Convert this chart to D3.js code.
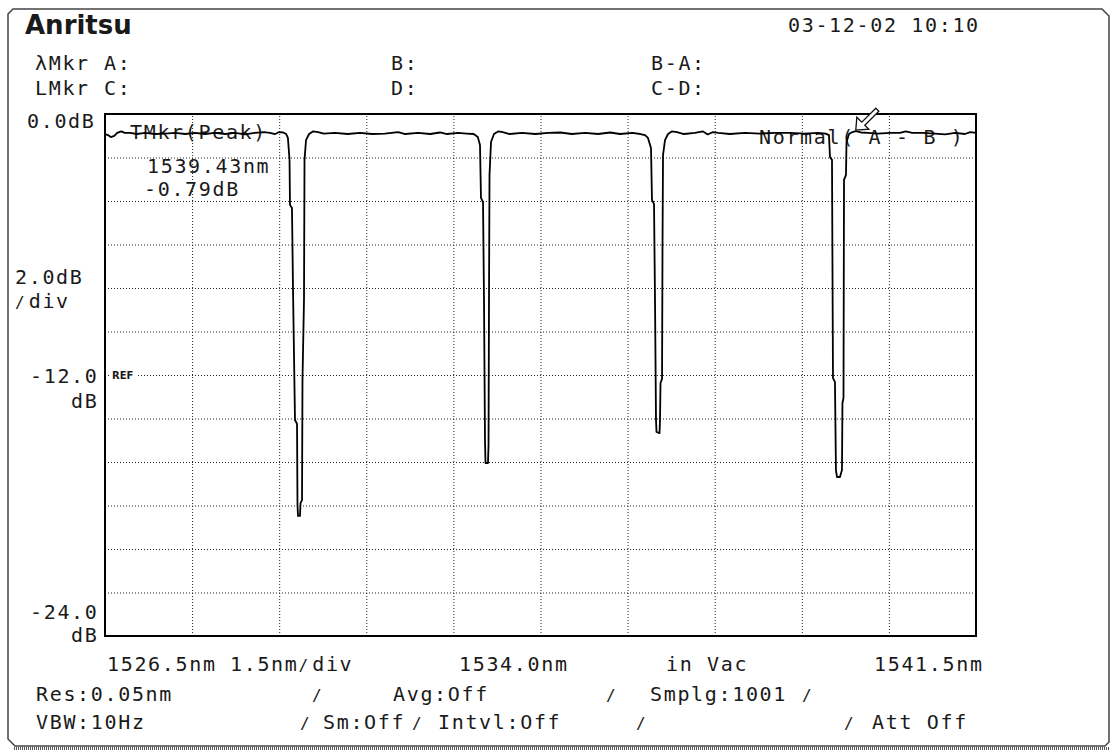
<!DOCTYPE html>
<html>
<head>
<meta charset="utf-8">
<script src="https://cdn.jsdelivr.net/npm/d3@7"></script>
<style>
  body { margin: 0; background: #fff; }
  svg text { font-family: "DejaVu Sans Mono", monospace; font-size: 20px; letter-spacing: 1.66px; fill: #1a1a1a; }
  svg tspan.sl { font-size: 16px; letter-spacing: 4.07px; }
</style>
</head>
<body>
<div id="chart"></div>
<script>
// Sweep settings (from the screen)
const xStart = 1526.5, xStop = 1541.5, xDiv = 1.5;
const yTop = 0, yBottom = -24, yDiv = 2;
const refLevel = -12;

// Trace: wavelength (nm) and level (dB)
const wavelengths = [
  1526.50, 1526.55, 1526.60, 1526.66, 1526.71, 1526.78, 1526.84, 1526.93, 1527.05, 1527.19,
  1527.36, 1527.53, 1527.71, 1527.88, 1528.05, 1528.22, 1528.39, 1528.57, 1528.74, 1528.91,
  1529.08, 1529.24, 1529.34, 1529.43, 1529.50, 1529.57, 1529.62, 1529.65,
  1529.678, 1529.686, 1529.720, 1529.738, 1529.772, 1529.807, 1529.815, 1529.824, 1529.858,
  1529.867, 1529.893, 1529.901, 1529.927, 1529.936, 1529.962, 1530.014,
  1530.08, 1530.17, 1530.27, 1530.46, 1530.68, 1530.89, 1531.10, 1531.32, 1531.55, 1531.67,
  1531.89, 1532.10, 1532.27, 1532.39, 1532.58, 1532.73, 1532.85, 1532.92,
  1532.958, 1532.975, 1533.010, 1533.027, 1533.044, 1533.053, 1533.096, 1533.105, 1533.113,
  1533.122, 1533.148, 1533.199,
  1533.27, 1533.35, 1533.47, 1533.68, 1533.91, 1534.13, 1534.34, 1534.54, 1534.77, 1534.99,
  1535.20, 1535.37, 1535.58, 1535.72, 1535.80,
  1535.851, 1535.903, 1535.920, 1535.955, 1535.972, 1535.989, 1535.998, 1536.050, 1536.058,
  1536.067, 1536.093, 1536.101, 1536.110, 1536.144, 1536.196,
  1536.26, 1536.35, 1536.47, 1536.66, 1536.80, 1536.88, 1536.97, 1537.06, 1537.26, 1537.52,
  1537.78, 1538.04, 1538.30, 1538.55, 1538.78, 1538.91,
  1538.968, 1538.985, 1539.020, 1539.037, 1539.071, 1539.088, 1539.106, 1539.157, 1539.192,
  1539.200, 1539.218, 1539.227, 1539.261, 1539.270, 1539.313,
  1539.37, 1539.43, 1539.52, 1539.64, 1539.81, 1540.02, 1540.19, 1540.29, 1540.40, 1540.57,
  1540.79, 1540.97, 1541.14, 1541.31, 1541.40, 1541.50
];
const levels = [
  -0.92, -0.97, -1.06, -1.01, -0.87, -0.80, -0.87, -0.87, -0.92, -0.87,
  -0.92, -0.90, -0.87, -0.92, -0.87, -0.92, -0.87, -0.92, -0.87, -0.94,
  -0.87, -0.83, -0.87, -0.92, -0.83, -0.85, -0.92, -1.10,
  -2.11, -4.18, -4.32, -8.09, -14.07, -14.25, -17.98, -18.48, -18.48,
  -17.89, -17.75, -12.23, -8.55, -2.11, -1.20, -0.92,
  -0.80, -0.83, -0.90, -0.87, -0.92, -0.87, -0.92, -0.90, -0.83, -0.92,
  -0.87, -0.92, -0.85, -0.92, -0.87, -0.90, -0.92, -1.06,
  -1.43, -3.86, -4.05, -8.55, -14.99, -16.05, -16.05, -15.22, -8.55,
  -2.80, -1.29, -0.92,
  -0.80, -0.83, -0.92, -0.87, -0.92, -0.87, -0.85, -0.92, -0.87, -0.92,
  -0.85, -0.92, -0.87, -0.92, -0.97,
  -1.10, -1.56, -3.95, -4.14, -8.55, -14.07, -14.62, -14.67, -14.07,
  -12.37, -12.18, -6.25, -1.89, -1.20, -0.92,
  -0.80, -0.83, -0.92, -0.87, -0.80, -0.94, -0.83, -0.87, -0.92, -0.87,
  -0.90, -0.87, -0.87, -0.90, -0.87, -0.90,
  -0.97, -1.98, -2.11, -12.14, -12.32, -16.37, -16.69, -16.69, -16.37,
  -13.29, -13.06, -3.03, -2.80, -1.29, -0.92,
  -0.83, -0.79, -0.85, -0.87, -0.90, -0.87, -0.87, -0.80, -0.87, -0.87,
  -0.90, -0.94, -0.87, -0.92, -0.83, -0.87
];

// Peak marker
const markerWl = 1539.43, markerDb = -0.79;
const markerText = ["TMkr(Peak)", "1539.43nm", "-0.79dB"];
const traceMode = "Normal( A - B )";

// Screen texts
const logo = "Anritsu";
const dateText = "03-12-02 10:10";
const headerRow1 = ["λMkr", "A:", "B:", "B-A:"];
const headerRow2 = ["LMkr", "C:", "D:", "C-D:"];
const yTopLabel = "0.0dB";
const yScaleLabel = ["2.0dB", "/div"];
const yRefLabel = ["-12.0", "dB"];
const yBottomLabel = ["-24.0", "dB"];
const xLabels = ["1526.5nm", "1.5nm/div", "1534.0nm", "in Vac", "1541.5nm"];
const statusRow1 = ["Res:0.05nm", "/", "Avg:Off", "/", "Smplg:1001", "/"];
const statusRow2 = ["VBW:10Hz", "/", "Sm:Off", "/", "Intvl:Off", "/", "/", "Att Off"];

// Layout
const W = 1112, H = 751;
const plot = { left: 105, right: 976, top: 114, bottom: 636 };

const svg = d3.select("#chart")
    .append("svg")
    .attr("width", W)
    .attr("height", H);

// Text helper: the small slashes of the instrument font go in their own tspan
function label(x, yPos, s) {
    const t = svg.append("text").attr("x", x).attr("y", yPos);
    s.split(/(\/)/).forEach(part => {
        if (!part) return;
        const ts = t.append("tspan").text(part);
        if (part === "/") ts.attr("class", "sl");
    });
    return t;
}

// Outer screen frame
svg.append("path")
    .attr("d", "M8,14 L13,9 L1102,9 L1109,16 L1109,742 L1105,746 L15,746 L8,739 Z")
    .attr("fill", "none")
    .attr("stroke", "#444")
    .attr("stroke-width", 1.5);
svg.append("line")
    .attr("x1", 14).attr("x2", 1110)
    .attr("y1", 748.5).attr("y2", 748.5)
    .attr("stroke", "#555")
    .attr("stroke-width", 3)
    .attr("stroke-dasharray", "1,1");

// Scales
const x = d3.scaleLinear().domain([xStart, xStop]).range([plot.left, plot.right]);
const y = d3.scaleLinear().domain([yBottom, yTop]).range([plot.bottom, plot.top]);

const xGrid = d3.range(xStart, xStop + 1e-6, xDiv);
const yGrid = d3.range(yBottom, yTop + 1e-6, yDiv);
const plotW = plot.right - plot.left, plotH = plot.bottom - plot.top;

// Dotted grid drawn with the axis generators
const gx = svg.append("g")
    .attr("transform", `translate(0,${plot.bottom})`)
    .call(d3.axisBottom(x).tickValues(xGrid).tickSize(-plotH).tickFormat(""));
const gy = svg.append("g")
    .attr("transform", `translate(${plot.left},0)`)
    .call(d3.axisLeft(y).tickValues(yGrid).tickSize(-plotW).tickFormat(""));
[gx, gy].forEach(g => {
    g.select(".domain").remove();
    g.selectAll(".tick line")
        .attr("stroke", "#222")
        .attr("stroke-width", 1)
        .attr("stroke-dasharray", "1,2");
});

// REF marker on the reference level line
svg.append("rect")
    .attr("x", plot.left + 5).attr("y", y(refLevel) - 8)
    .attr("width", 27).attr("height", 13)
    .attr("fill", "#fff");
svg.append("text")
    .attr("x", plot.left + 7).attr("y", y(refLevel) + 4)
    .style("font-family", "DejaVu Sans")
    .style("font-size", "10px")
    .style("font-weight", "bold")
    .style("letter-spacing", "0px")
    .text("REF");

// Plot border
svg.append("rect")
    .attr("x", plot.left).attr("y", plot.top)
    .attr("width", plotW).attr("height", plotH)
    .attr("fill", "none")
    .attr("stroke", "#000")
    .attr("stroke-width", 2);

// Texts inside the plot
label(130, 139, markerText[0]);
label(147, 173, markerText[1]);
label(144, 196, markerText[2]);
label(759, 144, traceMode);

// Trace
svg.append("clipPath").attr("id", "clip")
    .append("rect")
    .attr("x", plot.left).attr("y", plot.top)
    .attr("width", plotW).attr("height", plotH);

const traceData = wavelengths.map((w, i) => [w, levels[i]]);
const line = d3.line()
    .x(d => x(d[0]))
    .y(d => y(d[1]));

svg.append("path")
    .datum(traceData)
    .attr("clip-path", "url(#clip)")
    .attr("fill", "none")
    .attr("stroke", "#000")
    .attr("stroke-width", 1.8)
    .attr("stroke-linejoin", "round")
    .attr("d", line);

// Marker arrow (hollow, pointing down-left at the peak)
const mx = x(markerWl), my = y(markerDb) - 1;
svg.append("path")
    .attr("transform", `translate(${mx},${my})`)
    .attr("d", "M0,0 L13,-1 L9,-5 L23,-19 L20,-22 L6,-8 L1,-13 Z")
    .attr("fill", "#fff")
    .attr("stroke", "#111")
    .attr("stroke-width", 1.3);

// Header
svg.append("text")
    .attr("x", 25).attr("y", 34)
    .style("font-family", "DejaVu Sans")
    .style("font-size", "26px")
    .style("font-weight", "bold")
    .style("letter-spacing", "0px")
    .text(logo);
label(788, 32, dateText);

const headerCols = [35, 104, 391, 651];
headerRow1.forEach((s, i) => label(headerCols[i], 70, s));
headerRow2.forEach((s, i) => label(headerCols[i], 95, s));

// Level axis labels
label(27, 128, yTopLabel);
label(15, 284, yScaleLabel[0]);
label(15, 308, yScaleLabel[1]);
label(30, 383, yRefLabel[0]);
label(71, 408, yRefLabel[1]);
label(30, 619, yBottomLabel[0]);
label(71, 642, yBottomLabel[1]);

// Wavelength labels
const xLabelX = [107, 230, 459, 666, 874];
xLabels.forEach((s, i) => label(xLabelX[i], 671, s));

// Status lines
const status1X = [36, 312, 393, 606, 650, 802];
const status2X = [36, 300, 323, 412, 438, 636, 844, 872];
statusRow1.forEach((s, i) => label(status1X[i], 701, s));
statusRow2.forEach((s, i) => label(status2X[i], 729, s));
</script>
</body>
</html>
